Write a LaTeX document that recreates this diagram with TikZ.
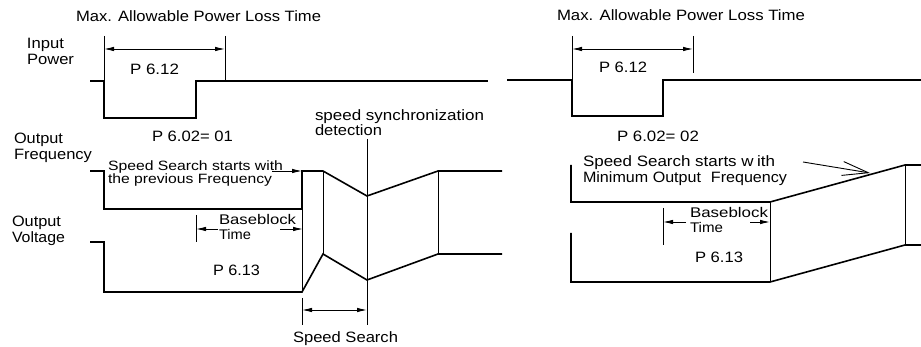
\documentclass[tikz,border=0pt]{standalone}
\usepackage{fontspec}
\setmainfont{Liberation Sans}
\usepackage{graphicx}
\usetikzlibrary{arrows.meta}
\newcommand{\fitw}[2]{\resizebox{#1}{\height}{#2}}
\begin{document}
\begin{tikzpicture}[x=1pt,y=-1pt,
  wave/.style={line width=1.6pt, line join=miter, black},
  thinline/.style={line width=0.9pt, black},
  dimline/.style={line width=0.9pt, {Latex[length=10pt,width=4.5pt]}-{Latex[length=10pt,width=4.5pt]}},
  halfdim/.style={line width=0.9pt, -{Latex[length=10pt,width=4.5pt]}},
  txt/.style={inner sep=0pt, outer sep=0pt, anchor=base west, font=\fontsize{15}{16}\selectfont},
]
\useasboundingbox (0,0) rectangle (921,347);

% ---------- texts, left ----------
\node[txt] (t1) at (76,22) {\fitw{245pt}{Max. Allowable Power Loss Time}};
\node[txt] (ip1) at (27,48.5) {\fitw{37pt}{Input}};
\node[txt] (ip2) at (27,65) {\fitw{47pt}{Power}};
\node[txt] (p612a) at (130,75) {\fitw{49pt}{P 6.12}};
\node[txt] (p602a) at (152,142) {\fitw{81pt}{P 6.02= 01}};
\node[txt] (of1) at (14,144) {\fitw{49pt}{Output}};
\node[txt] (of2) at (14,160) {\fitw{78pt}{Frequency}};
\node[txt] (ov1) at (12,227) {\fitw{49pt}{Output}};
\node[txt] (ov2) at (12,243) {\fitw{53pt}{Voltage}};
\node[txt, font=\fontsize{13.5}{14}\selectfont] (ss1) at (108,171) {\fitw{175pt}{Speed Search starts with}};
\node[txt, font=\fontsize{13.5}{14}\selectfont] (ss2) at (108,183.5) {\fitw{164pt}{the previous Frequency}};
\node[txt, font=\fontsize{14}{15}\selectfont] (bb1) at (219,225) {\fitw{77pt}{Baseblock}};
\node[txt, font=\fontsize{14}{15}\selectfont] (bb2) at (219,240) {\fitw{32pt}{Time}};
\node[txt] (p613a) at (213,276) {\fitw{47pt}{P 6.13}};
\node[txt] (sync1) at (315,121) {\fitw{169pt}{speed synchronization}};
\node[txt] (sync2) at (315,136) {\fitw{67pt}{detection}};
\node[txt] (ssd) at (293,342) {\fitw{105pt}{Speed Search}};

% ---------- texts, right ----------
\node[txt] (t2) at (557,21) {\fitw{248pt}{Max. Allowable Power Loss Time}};
\node[txt] (p612b) at (599,73) {\fitw{48pt}{P 6.12}};
\node[txt] (p602b) at (617,142) {\fitw{82pt}{P 6.02= 02}};
\node[txt] (rs1) at (583,167) {\fitw{192pt}{Speed Search starts w\kern3pt ith}};
\node[txt] (rs2) at (583,183) {\fitw{204pt}{Minimum Output\kern5pt\ Frequency}};
\node[txt, font=\fontsize{14}{15}\selectfont] (rbb1) at (690,218) {\fitw{78pt}{Baseblock}};
\node[txt, font=\fontsize{14}{15}\selectfont] (rbb2) at (690,233) {\fitw{33pt}{Time}};
\node[txt] (rp613) at (695,263) {\fitw{48pt}{P 6.13}};

% ---------- left waveforms ----------
\draw[wave] (90,81) -- (104,81) -- (104,118) -- (196,118) -- (196,81) -- (488,81);
\draw[thinline] (104,36) -- (104,81);
\draw[thinline] (225,36) -- (225,81);
\draw[dimline] (104,49) -- (225,49);

\draw[wave] (90,171) -- (104,171) -- (104,209) -- (302,209) -- (302,171) -- (323,171)
  -- (367,196) -- (438,171) -- (502,171);
\draw[wave] (90,242) -- (104,242) -- (104,292) -- (302,292) -- (323,254)
  -- (367,280) -- (438,254) -- (502,254);

\draw[thinline] (302,209) -- (302,292);
\draw[thinline] (323,171) -- (323,254);
\draw[thinline] (367,139) -- (367,325);
\draw[thinline] (438,171) -- (438,254);
\draw[thinline] (302,298) -- (302,325);
\draw[dimline] (302,310) -- (367,310);

\draw[thinline] (196,215) -- (196,242);
\draw[halfdim] (218,229) -- (196,229);
\draw[halfdim] (280,229) -- (303,229);
\draw[halfdim] (272,171) -- (302,171);

% ---------- right waveforms ----------
\draw[wave] (507,80) -- (572,80) -- (572,116) -- (663,116) -- (663,80) -- (921,80);
\draw[thinline] (572,36) -- (572,80);
\draw[thinline] (693,36) -- (693,73);
\draw[dimline] (572,49) -- (693,49);

\draw[wave] (571,165) -- (571,202) -- (770,202) -- (905,165) -- (921,165);
\draw[wave] (571,233) -- (571,282) -- (770,282) -- (905,245) -- (921,245);
\draw[thinline] (770,202) -- (770,282);
\draw[thinline] (905,165) -- (905,245);

\draw[thinline] (663,208) -- (663,245);
\draw[halfdim] (686,222) -- (663,222);
\draw[halfdim] (750,222) -- (770,222);

\draw[thinline, -{Straight Barb[length=26pt,width=14pt]}] (803,162) -- (870,173);
\end{tikzpicture}
\end{document}
